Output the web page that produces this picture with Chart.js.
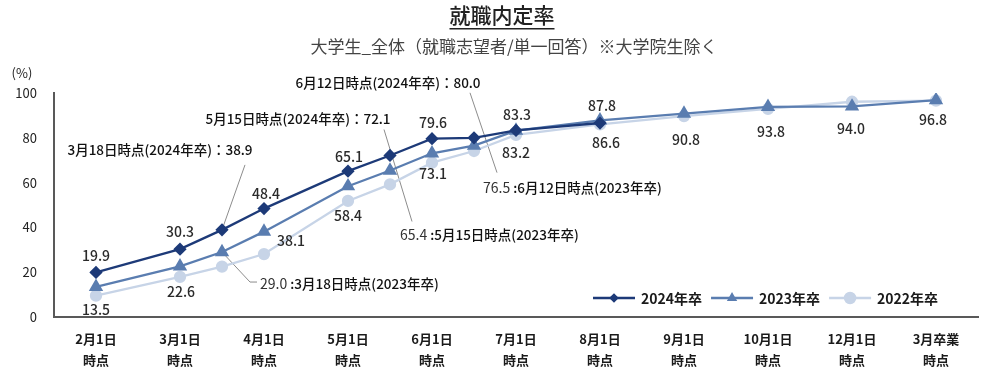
<!DOCTYPE html>
<html lang="ja">
<head>
<meta charset="utf-8">
<script src="https://cdn.jsdelivr.net/npm/chart.js@4.4.1/dist/chart.umd.min.js"></script>
<style>
  html, body { margin: 0; padding: 0; background: #fff; }
  #wrap { width: 1000px; height: 374px; position: relative; }
</style>
</head>
<body>
<div id="wrap"><canvas id="myChartCanvas1"></canvas></div>
<script>
// eixo X: pontos fixos + pesquisas intermediarias (3/18, 5/15, 6/12)
const axisLabels = ['2月1日', '3月1日', '4月1日', '5月1日', '6月1日', '7月1日', '8月1日', '9月1日', '10月1日', '12月1日', '3月卒業'];
const surveyDates = ['2月1日', '3月1日', '3月18日', '4月1日', '5月1日', '5月15日', '6月1日', '6月12日', '7月1日', '8月1日', '9月1日', '10月1日', '12月1日', '3月卒業'];
const surveyPoints = [0, 1, 1.5, 2, 3, 3.5, 4, 4.5, 5, 6, 7, 8, 9, 10];
const seriesNames = ['2024年卒', '2023年卒', '2022年卒'];
const values2024 = [19.9, 30.3, 38.9, 48.4, 65.1, 72.1, 79.6, 80.0, 83.3, 86.6];
const values2023 = [13.5, 22.6, 29.0, 38.1, 58.4, 65.4, 73.1, 76.5, 83.2, 87.8, 90.8, 93.8, 94.0, 96.8];
const values2022 = [9.5, 17.9, 22.5, 28.1, 51.8, 59.2, 68.9, 74.1, 81.3, 86.0, 89.7, 92.9, 96.1, 96.6];
const yTicks = [0, 20, 40, 60, 80, 100];

const chartFont = '"Noto Sans CJK JP", "Noto Sans", sans-serif';
const colors = ['#1d3a78', '#5a7db0', '#c7d4e7'];

// rotulos de valor: dataset, indice do ponto, deslocamento
const valueLabels = [
    { ds: 0, i: 0, dx: 0, dy: -17 },
    { ds: 0, i: 1, dx: 0, dy: -17 },
    { ds: 0, i: 3, dx: 2, dy: -15 },
    { ds: 0, i: 4, dx: 1, dy: -14 },
    { ds: 0, i: 6, dx: 1, dy: -16 },
    { ds: 0, i: 8, dx: 1, dy: -16 },
    { ds: 1, i: 9, dx: 2, dy: -15 },
    { ds: 1, i: 0, dx: 0, dy: 23 },
    { ds: 1, i: 1, dx: 1, dy: 25 },
    { ds: 1, i: 3, dx: 27, dy: 9 },
    { ds: 1, i: 4, dx: 0, dy: 30 },
    { ds: 1, i: 6, dx: 1, dy: 20 },
    { ds: 1, i: 8, dx: 0, dy: 22 },
    { ds: 0, i: 9, dx: 6, dy: 20 },
    { ds: 1, i: 10, dx: 2, dy: 26 },
    { ds: 1, i: 11, dx: 3, dy: 25 },
    { ds: 1, i: 12, dx: -1, dy: 22 },
    { ds: 1, i: 13, dx: -3, dy: 20 }
];

function makeSeries(values) {
    return values.map((v, i) => ({ x: surveyPoints[i], y: v }));
}

function pt(chart, ds, i) {
    const el = chart.getDatasetMeta(ds).data[i];
    return { x: el.x, y: el.y };
}

function line(ctx, pts) {
    ctx.beginPath();
    ctx.moveTo(pts[0].x, pts[0].y);
    for (let k = 1; k < pts.length; k++) ctx.lineTo(pts[k].x, pts[k].y);
    ctx.stroke();
}

const decorPlugin = {
    id: 'decor',
    beforeDatasetsDraw(chart) {
        const ctx = chart.ctx;
        ctx.save();
        ctx.strokeStyle = '#8c8c8c';
        ctx.lineWidth = 1;
        // 3/18 (2024)
        let p = pt(chart, 0, 2);
        line(ctx, [{ x: p.x + 23, y: p.y - 65 }, p]);
        // 5/15
        p = pt(chart, 0, 5);
        let q = pt(chart, 1, 5);
        line(ctx, [{ x: p.x - 6, y: p.y - 26 }, { x: q.x + 22, y: q.y + 51 }]);
        // 6/12
        p = pt(chart, 0, 7);
        q = pt(chart, 1, 7);
        line(ctx, [{ x: p.x - 4, y: p.y - 45 }, { x: q.x + 23, y: q.y + 27 }]);
        // 3/18 (2023)
        q = pt(chart, 1, 2);
        line(ctx, [q, { x: q.x + 28, y: q.y + 30 }, { x: q.x + 35, y: q.y + 30 }]);
        ctx.restore();
    },
    afterDatasetsDraw(chart) {
        const ctx = chart.ctx;
        const all = [values2024, values2023, values2022];
        ctx.save();

        // titulo
        ctx.fillStyle = '#222';
        ctx.textAlign = 'center';
        ctx.textBaseline = 'middle';
        ctx.font = `500 21px ${chartFont}`;
        ctx.fillText('就職内定率', 502, 15);
        const tw = ctx.measureText('就職内定率').width;
        ctx.fillRect(502 - tw / 2, 28, tw, 1.5);
        ctx.fillStyle = '#444';
        ctx.font = `17px ${chartFont}`;
        ctx.fillText('大学生_全体（就職志望者/単一回答）※大学院生除く', 514, 47);
        ctx.fillStyle = '#222';
        ctx.font = `13px ${chartFont}`;
        ctx.fillText('(%)', 22, 73);

        // rotulos de valor
        ctx.font = `500 14px ${chartFont}`;
        ctx.fillStyle = '#2a2a2a';
        valueLabels.forEach(l => {
            const p = pt(chart, l.ds, l.i);
            ctx.fillText(all[l.ds][l.i].toFixed(1), p.x + l.dx, p.y + l.dy);
        });

        // chamadas 2024
        ctx.font = `500 13.5px ${chartFont}`;
        ctx.fillStyle = '#111';
        [[2, -62, -80], [5, -92, -37], [7, -86, -55]].forEach(([i, dx, dy]) => {
            const p = pt(chart, 0, i);
            ctx.fillText(`${surveyDates[i]}時点(${seriesNames[0]})：${values2024[i].toFixed(1)}`, p.x + dx, p.y + dy);
        });

        // chamadas 2023
        ctx.textAlign = 'left';
        [[2, 38, 32], [5, 10, 64.5], [7, 9, 42]].forEach(([i, dx, dy]) => {
            const p = pt(chart, 1, i);
            const num = values2023[i].toFixed(1);
            ctx.font = `14px ${chartFont}`;
            ctx.fillStyle = '#333';
            ctx.fillText(num, p.x + dx, p.y + dy);
            const w = ctx.measureText(num).width;
            ctx.font = `500 13.5px ${chartFont}`;
            ctx.fillStyle = '#111';
            ctx.fillText(` :${surveyDates[i]}時点(${seriesNames[1]})`, p.x + dx + w, p.y + dy);
        });

        // legenda
        let x = 593;
        const ly = 298;
        chart.data.datasets.forEach((d, k) => {
            ctx.strokeStyle = d.borderColor;
            ctx.lineWidth = 2.5;
            line(ctx, [{ x: x, y: ly }, { x: x + 42, y: ly }]);
            const style = { pointStyle: d.pointStyle, radius: [3, 3.5, 5][k], borderWidth: 1, rotation: 0 };
            ctx.fillStyle = d.backgroundColor;
            ctx.strokeStyle = d.borderColor;
            Chart.helpers.drawPoint(ctx, style, x + 21, ly);
            ctx.fillStyle = '#1a1a1a';
            ctx.font = `bold 14px ${chartFont}`;
            ctx.textAlign = 'left';
            ctx.fillText(d.label, x + 48, ly + 1);
            x += 48 + ctx.measureText(d.label).width + 9;
        });
        ctx.restore();
    }
};

const dados = {
    datasets: [
        {
            label: seriesNames[0],
            data: makeSeries(values2024),
            borderColor: colors[0],
            backgroundColor: colors[0],
            borderWidth: 2.3,
            pointStyle: 'rectRot',
            pointRadius: 5,
            pointHoverRadius: 5
        },
        {
            label: seriesNames[1],
            data: makeSeries(values2023),
            borderColor: colors[1],
            backgroundColor: colors[1],
            borderWidth: 2.3,
            pointStyle: 'triangle',
            pointRadius: 6,
            pointHoverRadius: 6
        },
        {
            label: seriesNames[2],
            data: makeSeries(values2022),
            borderColor: colors[2],
            backgroundColor: colors[2],
            borderWidth: 2.3,
            pointStyle: 'circle',
            pointRadius: 5,
            pointHoverRadius: 5
        }
    ]
};

const config = {
    type: 'line',
    data: dados,
    plugins: [decorPlugin],
    options: {
        responsive: false,
        animation: false,
        layout: { padding: { top: 93, right: 22, left: 0, bottom: 0 } },
        scales: {
            x: {
                type: 'linear',
                min: -0.5,
                max: axisLabels.length - 0.5,
                afterBuildTicks: (axis) => {
                    axis.ticks = axisLabels.map((_, i) => ({ value: i }));
                },
                afterFit: (axis) => { axis.height = 57; },
                grid: { display: false, drawTicks: false },
                border: { display: true, color: '#595959', width: 2 },
                ticks: {
                    autoSkip: false,
                    maxRotation: 0,
                    padding: 12,
                    color: '#1a1a1a',
                    font: { family: chartFont, size: 13, weight: 'bold', lineHeight: 1.6 },
                    callback: (v) => [axisLabels[v], '時点']
                }
            },
            y: {
                min: 0,
                max: 100,
                afterBuildTicks: (axis) => {
                    axis.ticks = yTicks.map(v => ({ value: v }));
                },
                afterFit: (axis) => { axis.width = 54; },
                grid: { display: false, drawTicks: false },
                border: { display: true, color: '#595959', width: 2 },
                ticks: {
                    padding: 17,
                    color: '#222',
                    font: { family: chartFont, size: 13 }
                }
            }
        },
        plugins: {
            legend: { display: false },
            tooltip: { enabled: false }
        }
    }
};

const canvas = document.getElementById('myChartCanvas1');
canvas.width = 1000;
canvas.height = 374;
new Chart(canvas, config);
</script>
</body>
</html>
